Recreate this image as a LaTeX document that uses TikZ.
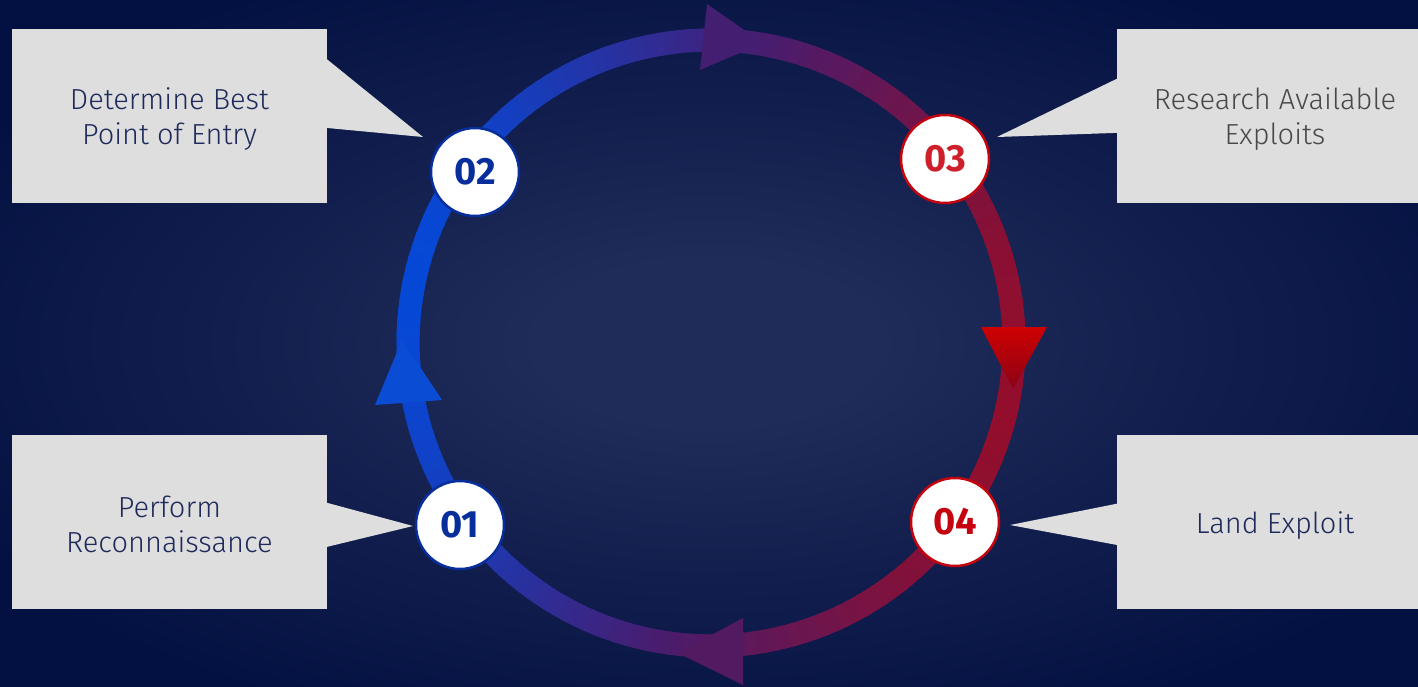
\documentclass[tikz,border=0pt]{standalone}
\usepackage{fontspec}
\setmainfont{Fira Sans Light}
\newfontfamily\numfont{Fira Sans}
\definecolor{bgin}{RGB}{31,43,88}
\definecolor{bgout}{RGB}{3,17,66}
\definecolor{ringblue}{RGB}{6,72,214}
\definecolor{ringpurple}{RGB}{72,28,110}
\definecolor{ringred}{RGB}{146,14,44}
\definecolor{boxgray}{RGB}{222,222,222}
\definecolor{navytext}{RGB}{30,42,90}
\definecolor{greytext}{RGB}{72,72,72}
\definecolor{stepblue}{RGB}{8,46,156}
\definecolor{stepred}{RGB}{196,4,14}
\definecolor{numred}{RGB}{206,32,42}
\definecolor{headpurpleA}{RGB}{68,30,112}
\definecolor{headpurpleB}{RGB}{82,26,96}
\definecolor{headblue}{RGB}{10,76,212}
\definecolor{headredtop}{RGB}{206,0,2}
\definecolor{headredbot}{RGB}{138,4,22}
\pgfdeclareradialshading{backglow}{\pgfpoint{0bp}{0bp}}{%
  color(0bp)=(bgin); color(6bp)=(bgin); color(30bp)=(bgout); color(50bp)=(bgout)}
\begin{document}
\begin{tikzpicture}[x=1pt,y=-1pt,
  callout/.style={fill=boxgray, minimum width=315pt, minimum height=174pt, inner sep=0pt},
  calltext/.style={inner sep=0pt, align=center, font=\fontsize{29}{35}\selectfont},
  badge/.style={circle, fill=white, line width=2.5pt, minimum size=88pt,
    inner sep=0pt, font=\numfont\bfseries\fontsize{38}{38}\selectfont},
]
\useasboundingbox (0,0) rectangle (1418,686);
% backdrop glow
\shade[shading=backglow] (0,0) rectangle (1418,686);

% cycle ring, coloured along its arc
\coordinate (ctr) at (711,343);
\foreach \a in {0,2,...,358}{
  \pgfmathsetmacro\t{50*(1-cos(\a-190))}
  \pgfmathsetmacro\pa{max(0,100-2*\t)}
  \pgfmathsetmacro\pb{max(0,2*\t-100)}
  \colorlet{segc}{ringblue!\pa!ringpurple}
  \colorlet{segc}{ringred!\pb!segc}
  \draw[segc, line width=23pt]
    ([shift={(\a-0.7:303)}]ctr) arc[start angle=\a-0.7, end angle=\a+2.7, radius=303];
}

% direction heads on the ring
\fill[headpurpleA] (707,4) -- (763,43) -- (700,70) -- cycle;
\fill[headpurpleB] (743,618) -- (743,685) -- (678,653) -- cycle;
\fill[headblue] (402,340) -- (442,400) -- (375,405) -- cycle;
\shade[top color=headredtop, bottom color=headredbot] (981,327) -- (1047,327) -- (1013,389) -- cycle;

% callout boxes
\node[callout] (b2) at (169.5,116) {};
\node[callout, minimum width=316pt] (b3) at (1275,116) {};
\node[callout] (b1) at (169.5,521.5) {};
\node[callout, minimum width=316pt] (b4) at (1275,521.5) {};

% callout pointers
\coordinate (p2) at (423,137);
\coordinate (p3) at (997,137);
\coordinate (p1) at (413,526);
\coordinate (p4) at (1010,525);
\fill[boxgray] ([xshift=-2pt,yshift=-29pt]b2.north east) -- (p2) -- ([xshift=-2pt,yshift=-99pt]b2.north east) -- cycle;
\fill[boxgray] ([xshift=2pt,yshift=-49pt]b3.north west) -- (p3) -- ([xshift=2pt,yshift=-104pt]b3.north west) -- cycle;
\fill[boxgray] ([xshift=-2pt,yshift=-68pt]b1.north east) -- (p1) -- ([xshift=-2pt,yshift=-113pt]b1.north east) -- cycle;
\fill[boxgray] ([xshift=2pt,yshift=-69pt]b4.north west) -- (p4) -- ([xshift=2pt,yshift=-111pt]b4.north west) -- cycle;

% callout texts
\node[calltext, text=navytext] (t2) at ([yshift=-3pt]b2.center) {Determine Best\\Point of Entry};
\node[calltext, text=greytext] (t3) at ([yshift=-3pt]b3.center) {Research Available\\Exploits};
\node[calltext, text=navytext] (t1) at ([yshift=-3pt]b1.center) {Perform\\Reconnaissance};
\node[calltext, text=navytext] (t4) at ([yshift=-4pt]b4.center) {Land Exploit};

% step badges
\node[badge, draw=stepblue, text=stepblue] (s1) at (460,525) {01};
\node[badge, draw=stepblue, text=stepblue] (s2) at (475,172) {02};
\node[badge, draw=stepred, text=numred] (s3) at (945,159) {03};
\node[badge, draw=stepred, text=stepred] (s4) at (955,522) {04};
\end{tikzpicture}
\end{document}
